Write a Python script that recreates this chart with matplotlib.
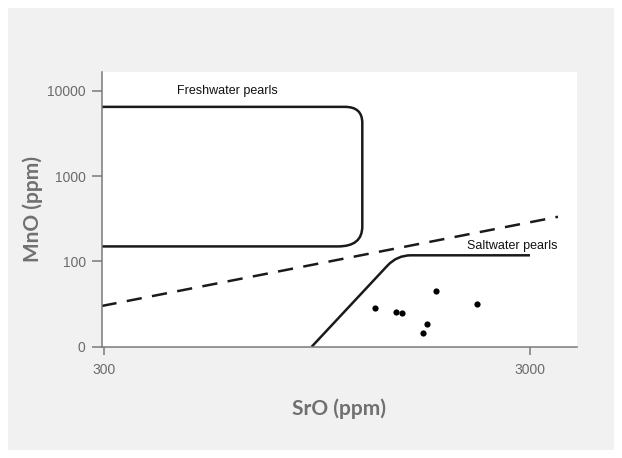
import matplotlib
matplotlib.use("Agg")
import matplotlib.pyplot as plt
from matplotlib.path import Path
from matplotlib.patches import PathPatch, Rectangle

plt.rcParams["lines.scale_dashes"] = False

# --- data -------------------------------------------------------------
# Trace-element analyses of the samples (SrO, MnO in ppm)
sro_samples = [1296, 1451, 1504, 1680, 1717, 1808, 2253]
mno_samples = [28.7, 25.7, 24.8, 14.6, 18.6, 45.3, 31.4]

# Freshwater pearl field (rounded box, open on the low-SrO side)
fresh_x = [200, 1104, 1212, 1212, 1212, 1212, 1063, 200]
fresh_y = [6500, 6500, 6500, 4217, 257, 150, 150, 150]

# Saltwater pearl field boundary (rising edge, rounded knee, plateau)
salt_x = [922, 1389, 1462, 1577, 3000]
salt_y = [10, 89.5, 118, 118, 118]

# Dividing line between the two fields
divide_x = [296, 3490]
divide_y = [30, 334]

x_ticks = [300, 3000]
x_tick_labels = ["300", "3000"]
y_ticks = [10, 100, 1000, 10000]
y_tick_labels = ["0", "100", "1000", "10000"]

# --- figure -----------------------------------------------------------
W, H = 622, 458
fig = plt.figure(figsize=(W / 100, H / 100), dpi=100, facecolor="white")

# light grey panel behind the chart
fig.patches.append(Rectangle((8 / W, 8 / H), 606 / W, 442 / H,
                             transform=fig.transFigure, facecolor="#f1f1f1",
                             edgecolor="none", zorder=-5))

ax = fig.add_axes([101.7 / W, 111.3 / H, 475 / W, 275 / H])
ax.set_zorder(2)
ax.set_facecolor("white")
ax.set_xscale("log")
ax.set_yscale("log")
ax.set_xlim(296.3, 3862)
ax.set_ylim(10, 16800)

line_kw = dict(color="#1a1a1a", linewidth=1.8)

# freshwater field
fresh_codes = [Path.MOVETO, Path.LINETO, Path.CURVE3, Path.CURVE3,
               Path.LINETO, Path.CURVE3, Path.CURVE3, Path.LINETO]
ax.add_patch(PathPatch(Path(list(zip(fresh_x, fresh_y)), fresh_codes),
                       facecolor="none", edgecolor="#1a1a1a", linewidth=1.8,
                       capstyle="butt", joinstyle="round"))

# saltwater field boundary
salt_codes = [Path.MOVETO, Path.LINETO, Path.CURVE3, Path.CURVE3, Path.LINETO]
ax.add_patch(PathPatch(Path(list(zip(salt_x, salt_y)), salt_codes),
                       facecolor="none", edgecolor="#1a1a1a", linewidth=1.8,
                       capstyle="butt", joinstyle="round"))

# dividing line
ax.plot(divide_x, divide_y, dashes=(11, 7.5), dash_capstyle="butt", **line_kw)

# samples
ax.scatter(sro_samples, mno_samples, s=20, color="black", zorder=3,
           linewidths=0)

# field labels
ax.text(583, 10000, "Freshwater pearls", ha="center", va="center",
        fontsize=9, family="Liberation Sans", color="#111111")
ax.text(2131, 153, "Saltwater pearls", ha="left", va="center",
        fontsize=9, family="Liberation Sans", color="#111111")

# axes styling
for side in ("top", "right"):
    ax.spines[side].set_visible(False)
for side in ("left", "bottom"):
    ax.spines[side].set_color("#7a7a7a")
    ax.spines[side].set_linewidth(1.1)

ax.set_xticks(x_ticks)
ax.set_xticklabels(x_tick_labels)
ax.set_yticks(y_ticks)
ax.set_yticklabels(y_tick_labels)
ax.minorticks_off()
ax.tick_params(axis="both", colors="#7a7a7a", width=1.1, labelcolor="#6b6b6b",
               labelsize=10)
ax.tick_params(axis="y", length=7.2, pad=4.3)
ax.tick_params(axis="x", length=6, pad=6)
for lab in ax.get_xticklabels() + ax.get_yticklabels():
    lab.set_family("Liberation Sans")

label_font = dict(family="Lato", weight="bold", size=15, color="#707070")
ax.set_xlabel("SrO (ppm)", va="center", ha="center", **label_font)
ax.xaxis.set_label_coords(0.4987, -0.2265)
ax.set_ylabel("MnO (ppm)", va="center", ha="center", **label_font)
ax.yaxis.set_label_coords(-0.1446, 0.5)

fig.savefig("out.png", dpi=100, facecolor=fig.get_facecolor())
